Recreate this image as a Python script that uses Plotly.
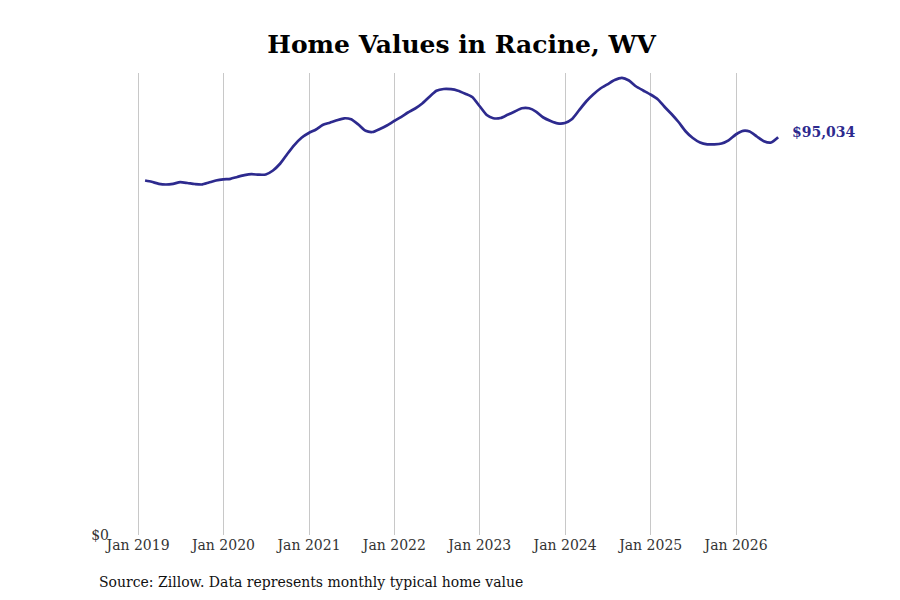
import plotly.graph_objects as go
import pandas as pd

dates = pd.date_range("2019-01-31", periods=90, freq="ME").strftime("%Y-%m-%d").tolist()
values = [
    84711, 84401, 83923, 83755, 83923, 84305, 84114, 83875, 83755, 84233, 84711, 84998,
    85117, 85548, 85978, 86217, 86097, 86145, 87101, 88774, 91044, 93242, 94939, 96062,
    96898, 97974, 98523, 99097, 99575, 99336, 98093, 96588, 96301, 97018, 97854, 98929,
    99933, 100961, 101916, 103111, 104736, 106146, 106576, 106528, 106170, 105453, 104664, 102514,
    100363, 99599, 99646, 100411, 101200, 101964, 101964, 101128, 99766, 98929, 98380, 98452,
    99407, 101439, 103589, 105262, 106696, 107700, 108727, 109253, 108607, 107174, 106218, 105262,
    104115, 102394, 100602, 98690, 96420, 94867, 93793, 93363, 93363, 93553, 94318, 95703,
    96588, 96420, 95226, 94104, 93793, 95034,
]
tick_vals = ["2019-01-01", "2020-01-01", "2021-01-01", "2022-01-01",
             "2023-01-01", "2024-01-01", "2025-01-01", "2026-01-01"]
tick_text = ["Jan 2019", "Jan 2020", "Jan 2021", "Jan 2022",
             "Jan 2023", "Jan 2024", "Jan 2025", "Jan 2026"]
title = "Home Values in Racine, WV"
source = "Source: Zillow. Data represents monthly typical home value"

color = "#2d2a8e"
font = "DejaVu Serif"

fig = go.Figure()
fig.add_trace(go.Scatter(x=dates, y=values, mode="lines",
                         line=dict(color=color, width=2.7, shape="spline", smoothing=0.6),
                         hoverinfo="x+y"))

fig.add_annotation(x=dates[-1], y=values[-1], text="<b>$%s</b>" % format(values[-1], ","),
                   showarrow=False, xanchor="left", yanchor="middle", xshift=12, yshift=5,
                   font=dict(family=font, size=14, color=color))
fig.add_annotation(x=0, xref="paper", xanchor="left", xshift=-13,
                   y=0, yref="paper", yanchor="middle", yshift=-47,
                   text=source, showarrow=False,
                   font=dict(family=font, size=14, color="#111"))

fig.update_layout(
    width=900, height=600,
    paper_bgcolor="white", plot_bgcolor="white",
    margin=dict(l=102, r=48, t=65, b=73),
    showlegend=False,
    title=dict(text="<b>%s</b>" % title, x=0.504, xanchor="center", y=0.94, yanchor="middle",
               font=dict(family=font, size=25, color="black")),
    font=dict(family=font, size=14, color="#333"),
    xaxis=dict(range=["2018-09-03", "2027-06-15"], tickvals=tick_vals, ticktext=tick_text,
               showgrid=True, gridcolor="#c8c8c8", gridwidth=1, zeroline=False,
               showline=False, ticks="", tickfont=dict(family=font, size=14, color="#333")),
    yaxis=dict(range=[0, 110400], tickvals=[0], ticktext=["$0"], showgrid=False,
               zeroline=False, showline=False, ticks="",
               tickfont=dict(family=font, size=14, color="#333")),
)

fig.write_html("out.html")
